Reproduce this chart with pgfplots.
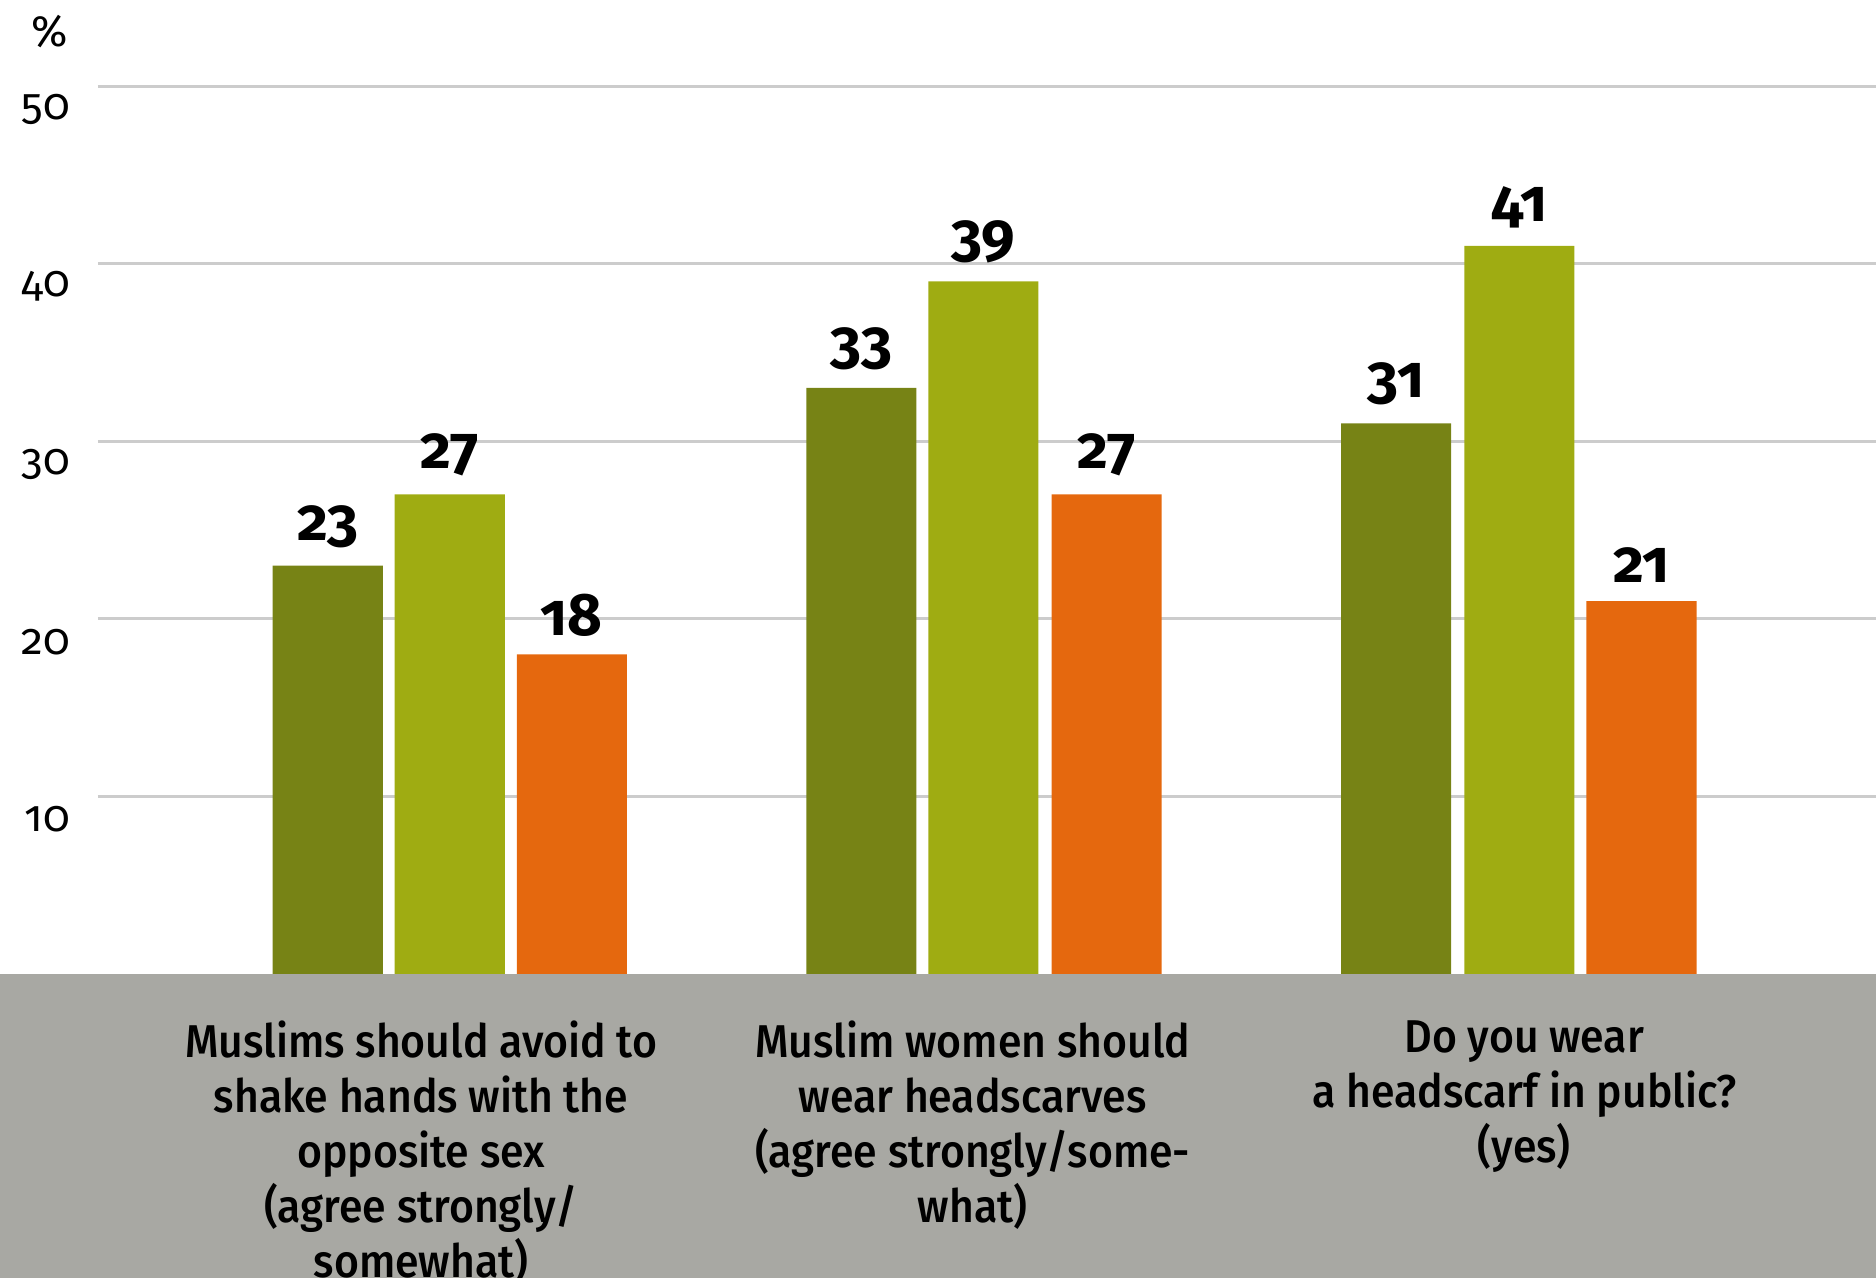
\documentclass[border=0pt]{standalone}
\usepackage{fontspec}
\setmainfont{Fira Sans}[Numbers=OldStyle]
\newfontfamily\medfont{Fira Sans Medium}[Numbers=OldStyle, FakeStretch=0.93]
\usepackage{pgfplots}
\pgfplotsset{compat=1.18}
\definecolor{dkolive}{RGB}{119,131,21}
\definecolor{ltolive}{RGB}{159,172,18}
\definecolor{myorange}{RGB}{229,104,14}
\definecolor{band}{RGB}{168,168,163}
\definecolor{gridc}{RGB}{204,204,204}
\begin{document}
\begin{tikzpicture}
\useasboundingbox (-49pt,-152pt) rectangle (889pt,487pt);
\fill[band] (-49pt,-152pt) rectangle (889pt,0pt);
\begin{axis}[
  at={(0pt,0pt)}, anchor=south west,
  scale only axis, width=889pt, height=444pt,
  xmin=82, xmax=1568, ymin=0, ymax=50,
  axis line style={draw=none},
  major tick length=0pt,
  ytick={10,20,30,40,50},
  ymajorgrids, grid style={color=gridc, line width=1.5pt},
  /pgf/number format/assume math mode=true,
  yticklabel style={font=\fontsize{22}{26}\selectfont, anchor=east, xshift=-10.5pt, yshift=-11.5pt},
  xtick={352,813,1274},
  xticklabels={{Muslims should avoid to\\shake hands with the\\opposite sex\\(agree strongly/\\somewhat)},
               {Muslim women should\\wear headscarves\\(agree strongly/some-\\what)},
               {Do you wear\\a headscarf in public?\\(yes)}},
  xticklabel style={font=\medfont\fontsize{23}{27.5}\selectfont, align=center, anchor=north, yshift=-20pt},
  ybar, bar width=92, bar shift=0pt,
  nodes near coords,
  every node near coord/.append style={font=\fontsize{30}{34}\selectfont\bfseries, anchor=south, yshift=5.5pt},
  clip=false,
]
\addplot[fill=dkolive, draw=none] coordinates {(274,23) (720,33) (1167,31)};
\addplot[fill=ltolive, draw=none] coordinates {(376,27) (822,39) (1270,41)};
\addplot[fill=myorange, draw=none] coordinates {(478,18) (925,27) (1372,21)};
\end{axis}
\node[font=\fontsize{22}{26}\selectfont] at (-24pt,471pt) {\%};
\end{tikzpicture}
\end{document}
